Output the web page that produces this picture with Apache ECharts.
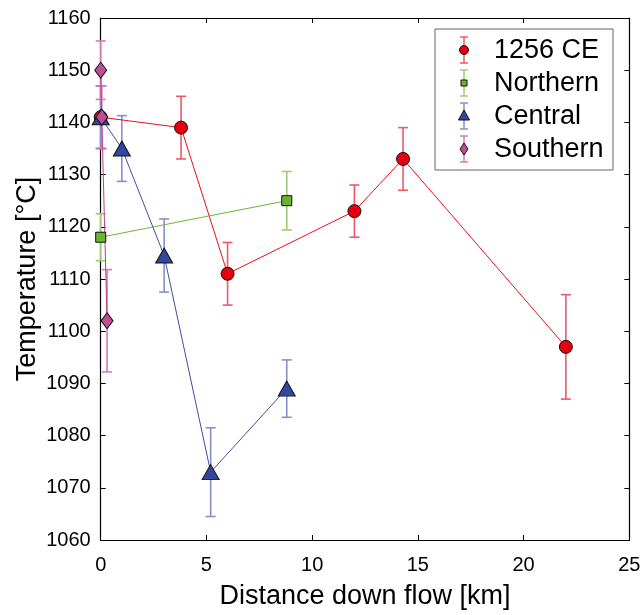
<!DOCTYPE html>
<html><head><meta charset="utf-8">
<script src="https://cdn.jsdelivr.net/npm/echarts@6/dist/echarts.min.js"></script>
<style>html,body{margin:0;padding:0;background:#fff}#c{width:644px;height:615px}</style>
</head><body><div id="c"></div>
<script>
// Data: [distance km, temperature °C, error ±]
const ce1256 = [[0,1141,6],[3.8,1139,6],[6.0,1111,6],[12.0,1123,5],[14.3,1133,6],[22.0,1097,10]];
const northern = [[0,1118,4.5],[8.8,1125,5.6]];
const central = [[0,1141,6],[1.0,1135,6.3],[3.0,1114.5,7],[5.2,1073,8.5],[8.8,1089,5.5]];
const southern = [[0,1150,5.6],[0.05,1141,6],[0.3,1102,9.8]];
const seriesNames = ['1256 CE','Northern','Central','Southern'];
const xTicks = [0,5,10,15,20,25];
const yTicks = [1060,1070,1080,1090,1100,1110,1120,1130,1140,1150,1160];

const styles = [
  {line:'#e8101e', fill:'#e5000f', err:'#ee5868', symbol:'circle', size:13},
  {line:'#6cb43a', fill:'#6ab530', err:'#9ccc74', symbol:'rect', size:10},
  {line:'#3d4fa0', fill:'#33479c', err:'#8590c8', symbol:'triangle', size:[17,15]},
  {line:'#c03c90', fill:'#c04c9a', err:'#d878b8', symbol:'diamond', size:[12,16]}
];
const datasets = [ce1256, northern, central, southern];
const FONT = 'Liberation Sans, Arial, sans-serif';

const chart = echarts.init(document.getElementById('c'));
const series = [];
datasets.forEach((d, i) => {
  const st = styles[i];
  series.push({
    type:'custom', name: seriesNames[i]+' err', xAxisIndex:0, yAxisIndex:0, z:2,
    data: d.map(p => [p[0], p[1], p[2]]),
    renderItem: (params, api) => {
      const x = api.value(0), y = api.value(1), e = api.value(2);
      const top = api.coord([x, y + e]);
      const bot = api.coord([x, y - e]);
      const hw = 5;
      const s = {stroke: st.err, lineWidth: 1.6, fill: null};
      return {type:'group', children:[
        {type:'line', shape:{x1:top[0], y1:top[1], x2:bot[0], y2:bot[1]}, style:s},
        {type:'line', shape:{x1:top[0]-hw, y1:top[1], x2:top[0]+hw, y2:top[1]}, style:s},
        {type:'line', shape:{x1:bot[0]-hw, y1:bot[1], x2:bot[0]+hw, y2:bot[1]}, style:s}
      ]};
    },
    silent:true
  });
});
datasets.forEach((d, i) => {
  const st = styles[i];
  series.push({
    type:'line', name: seriesNames[i], xAxisIndex:0, yAxisIndex:0, z:3,
    data: d.map(p => [p[0], p[1]]),
    symbol: st.symbol, symbolSize: st.size,
    lineStyle:{color: st.line, width: 1},
    itemStyle:{color: st.fill, borderColor:'#111', borderWidth:1},
    animation:false
  });
});

// Legend drawn with graphic elements
const legendChildren = [];
const lgX = 435, lgY = 29, lgW = 178, lgH = 141;
legendChildren.push({type:'rect', shape:{x:lgX, y:lgY, width:lgW, height:lgH},
  style:{fill:'#fff', stroke:'#666', lineWidth:1}});
const rowY = [50, 83, 116, 149];
seriesNames.forEach((n, i) => {
  const st = styles[i];
  const cx = 464, cy = rowY[i];
  const s = {stroke: st.err, lineWidth: 1.5};
  legendChildren.push({type:'line', shape:{x1:cx, y1:cy-13, x2:cx, y2:cy+13}, style:s});
  legendChildren.push({type:'line', shape:{x1:cx-4, y1:cy-13, x2:cx+4, y2:cy-13}, style:s});
  legendChildren.push({type:'line', shape:{x1:cx-4, y1:cy+13, x2:cx+4, y2:cy+13}, style:s});
  const ms = {fill: st.fill, stroke:'#111', lineWidth:1};
  if (st.symbol === 'circle') legendChildren.push({type:'circle', shape:{cx:cx, cy:cy, r:4.5}, style:ms});
  else if (st.symbol === 'rect') legendChildren.push({type:'rect', shape:{x:cx-3, y:cy-3, width:6, height:6}, style:ms});
  else if (st.symbol === 'triangle') legendChildren.push({type:'polygon', shape:{points:[[cx,cy-6],[cx+5.5,cy+4],[cx-5.5,cy+4]]}, style:ms});
  else legendChildren.push({type:'polygon', shape:{points:[[cx,cy-6],[cx+4,cy],[cx,cy+6],[cx-4,cy]]}, style:ms});
  legendChildren.push({type:'text', x:494, y:cy+1, style:{text:n, fill:'#000', font:'27px '+FONT, textVerticalAlign:'middle', verticalAlign:'middle'}});
});

const axisCommon = {
  axisLine:{show:true, onZero:false, lineStyle:{color:'#000', width:1.2}},
  axisTick:{show:true, inside:true, length:5, lineStyle:{color:'#000'}},
  splitLine:{show:false}
};
chart.setOption({
  animation:false,
  backgroundColor:'#fff',
  grid:{left:100.7, right:14.7, top:18, bottom:69.3, containLabel:false},
  xAxis:[
    Object.assign({type:'value', min:xTicks[0], max:xTicks[xTicks.length-1], interval:5, position:'bottom',
      name:'Distance down flow [km]', nameLocation:'middle', nameGap:43, nameMoveOverlap:false,
      nameTextStyle:{fontSize:27, color:'#000', fontFamily:FONT},
      axisLabel:{fontSize:20, color:'#000', fontFamily:FONT, margin:15}}, axisCommon),
    Object.assign({type:'value', min:xTicks[0], max:xTicks[xTicks.length-1], interval:5, position:'top',
      axisLabel:{show:false}}, axisCommon)
  ],
  yAxis:[
    Object.assign({type:'value', min:yTicks[0], max:yTicks[yTicks.length-1], interval:10, position:'left',
      name:'Temperature [°C]', nameLocation:'middle', nameGap:60, nameMoveOverlap:false,
      nameTextStyle:{fontSize:27, color:'#000', fontFamily:FONT},
      axisLabel:{fontSize:20, color:'#000', fontFamily:FONT, margin:10, formatter: v => String(v)}}, axisCommon),
    Object.assign({type:'value', min:yTicks[0], max:yTicks[yTicks.length-1], interval:10, position:'right',
      axisLabel:{show:false}}, axisCommon)
  ],
  series: series,
  graphic:{elements:[{type:'group', children:legendChildren, z:100}]}
});
</script></body></html>
